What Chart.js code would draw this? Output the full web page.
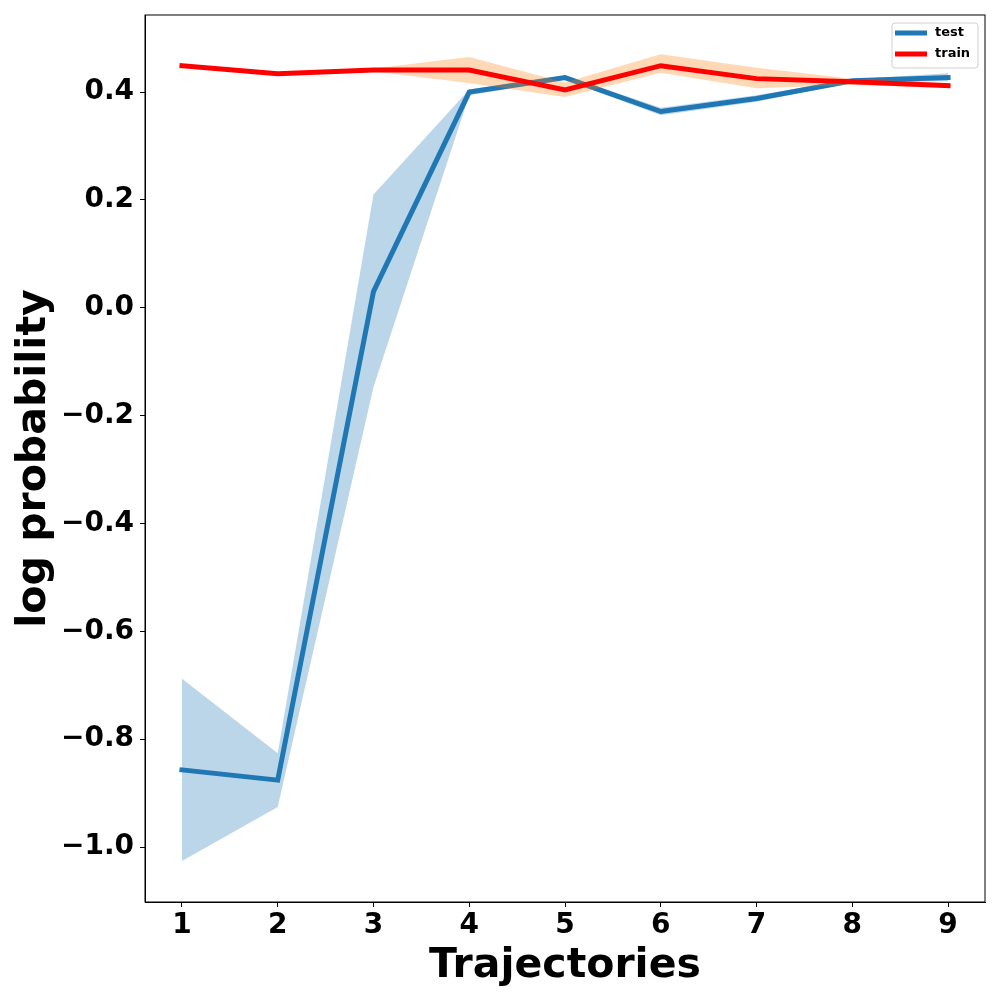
<!DOCTYPE html>
<html>
<head>
<meta charset="utf-8">
<script src="https://cdn.jsdelivr.net/npm/chart.js@4/dist/chart.umd.min.js"></script>
<style>
  html, body { margin: 0; padding: 0; background: #fff; }
  #wrap { width: 1000px; height: 1000px; }
</style>
</head>
<body>
<div id="wrap"><canvas id="myChart"></canvas></div>
<script>
// values
const trajectories = [1, 2, 3, 4, 5, 6, 7, 8, 9];
const testMean  = [-0.857, -0.876, 0.030, 0.400, 0.427, 0.364, 0.388, 0.421, 0.427];
const testUpper = [-0.688, -0.826, 0.210, 0.405, 0.431, 0.371, 0.394, 0.424, 0.435];
const testLower = [-1.026, -0.926, -0.147, 0.394, 0.423, 0.357, 0.382, 0.418, 0.420];
const trainMean  = [0.449, 0.434, 0.441, 0.441, 0.404, 0.449, 0.425, 0.419, 0.412];
const trainUpper = [0.451, 0.436, 0.444, 0.465, 0.418, 0.470, 0.445, 0.425, 0.417];
const trainLower = [0.447, 0.432, 0.438, 0.417, 0.391, 0.436, 0.407, 0.413, 0.408];
const xTicks = [1, 2, 3, 4, 5, 6, 7, 8, 9];
const yTicks = [-1.0, -0.8, -0.6, -0.4, -0.2, 0.0, 0.2, 0.4];

const FONT = "'DejaVu Sans', sans-serif";
const toPoints = (ys) => ys.map((y, i) => ({ x: trajectories[i], y: y }));

const band = (ys, color, fill, order) => ({
  data: toPoints(ys),
  borderWidth: 0,
  pointRadius: 0,
  backgroundColor: color,
  fill: fill,
  order: order,
});

// draw the frame and the in-plot legend, matplotlib style
const framePlugin = {
  id: 'frame',
  afterDraw(chart) {
    const { ctx, chartArea: a } = chart;
    ctx.save();
    ctx.strokeStyle = '#000';
    ctx.lineWidth = 1;
    ctx.strokeRect(a.left, a.top, a.right - a.left, a.bottom - a.top);

    const items = [
      { label: 'test', color: '#1f77b4' },
      { label: 'train', color: '#ff0000' },
    ];
    const boxW = 86, boxH = 45;
    const bx = a.right - 7 - boxW, by = a.top + 8;
    ctx.fillStyle = 'rgba(255,255,255,0.8)';
    ctx.strokeStyle = '#d0d0d0';
    ctx.beginPath();
    ctx.roundRect(bx, by, boxW, boxH, 3);
    ctx.fill();
    ctx.stroke();
    ctx.font = 'bold 13px ' + FONT;
    ctx.textBaseline = 'middle';
    items.forEach((it, i) => {
      const y = by + 10 + i * 21;
      ctx.strokeStyle = it.color;
      ctx.lineWidth = 5;
      ctx.beginPath();
      ctx.moveTo(bx + 3, y);
      ctx.lineTo(bx + 35, y);
      ctx.stroke();
      ctx.fillStyle = '#000';
      ctx.fillText(it.label, bx + 43, y);
    });
    ctx.restore();
  }
};

new Chart(document.getElementById('myChart'), {
  type: 'line',
  data: {
    datasets: [
      band(testLower, 'rgba(31,119,180,0.3)', false, 4),
      band(testUpper, 'rgba(31,119,180,0.3)', '-1', 4),
      {
        label: 'test',
        data: toPoints(testMean),
        borderColor: '#1f77b4',
        borderWidth: 5,
        borderCapStyle: 'square',
        pointRadius: 0,
        fill: false,
        order: 3,
      },
      band(trainLower, 'rgba(255,127,14,0.3)', false, 2),
      band(trainUpper, 'rgba(255,127,14,0.3)', '-1', 2),
      {
        label: 'train',
        data: toPoints(trainMean),
        borderColor: '#ff0000',
        borderWidth: 5,
        borderCapStyle: 'square',
        pointRadius: 0,
        fill: false,
        order: 1,
      },
    ],
  },
  options: {
    responsive: true,
    maintainAspectRatio: false,
    animation: false,
    layout: { padding: { top: 15, right: 15, left: 0, bottom: 0 } },
    plugins: {
      legend: { display: false },
      tooltip: { enabled: false },
    },
    scales: {
      x: {
        type: 'linear',
        min: 0.614,
        max: 9.386,
        afterBuildTicks: (scale) => { scale.ticks = xTicks.map(v => ({ value: v })); },
        afterFit: (scale) => {
          scale.height = 98;
          scale.paddingLeft = 0;
          scale.paddingRight = 0;
        },
        grid: { drawOnChartArea: false, drawTicks: true, tickLength: 5, color: '#000' },
        border: { display: true, color: '#000', width: 1 },
        ticks: {
          color: '#000',
          padding: 2,
          maxRotation: 0,
          font: { family: FONT, size: 28, weight: 'bold' },
          callback: (v) => String(v),
        },
        title: {
          display: true,
          text: 'Trajectories',
          color: '#000',
          font: { family: FONT, size: 41, weight: 'bold', lineHeight: 1 },
          padding: { top: 0, bottom: 13 },
        },
      },
      y: {
        min: -1.102,
        max: 0.543,
        afterBuildTicks: (scale) => { scale.ticks = yTicks.map(v => ({ value: v })); },
        afterFit: (scale) => {
          scale.width = 145;
          scale.paddingTop = 0;
          scale.paddingBottom = 0;
        },
        grid: { drawOnChartArea: false, drawTicks: true, tickLength: 5, color: '#000' },
        border: { display: true, color: '#000', width: 1 },
        ticks: {
          color: '#000',
          padding: 6,
          font: { family: FONT, size: 28, weight: 'bold' },
          callback: (v) => v.toFixed(1).replace('-', '\u2212'),
        },
        title: {
          display: true,
          text: 'log probability',
          color: '#000',
          font: { family: FONT, size: 41, weight: 'bold', lineHeight: 1 },
          padding: { top: 14, bottom: 0 },
        },
      },
    },
  },
  plugins: [framePlugin],
});
</script>
</body>
</html>
